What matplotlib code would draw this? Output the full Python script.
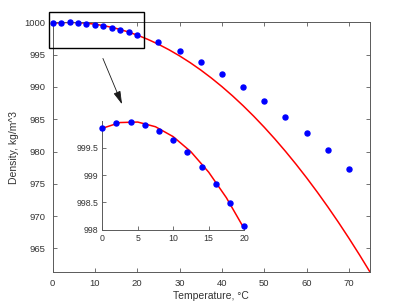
import numpy as np
import matplotlib.pyplot as plt
from matplotlib.patches import Rectangle

plt.rcParams["font.family"] = ["Liberation Sans", "DejaVu Sans"]

# measured densities of water
temp_low = [0, 2, 4, 6, 8, 10, 12, 14, 16, 18, 20]
dens_low = [999.87, 999.96, 999.97, 999.92, 999.81, 999.65, 999.43, 999.15, 998.84, 998.49, 998.07]
temp_high = [25, 30, 35, 40, 45, 50, 55, 60, 65, 70]
dens_high = [997.0, 995.6, 993.9, 992.0, 990.0, 987.8, 985.4, 982.9, 980.2, 977.3]

# fitted curve
fit_temp = [0, 2.5, 5, 7.5, 10, 12.5, 15, 17.5, 20, 22.5, 25, 27.5, 30, 32.5, 35, 37.5,
            40, 42.5, 45, 47.5, 50, 52.5, 55, 57.5, 60, 62.5, 65, 67.5, 70, 72.5, 75]
fit_dens = [999.857, 999.963, 999.972, 999.886, 999.704, 999.426, 999.052, 998.582, 998.016,
            997.355, 996.598, 995.744, 994.795, 993.750, 992.609, 991.372, 990.040, 988.611,
            987.087, 985.467, 983.750, 981.938, 980.030, 978.027, 975.927, 973.731, 971.440,
            969.053, 966.569, 963.990, 961.316]

x_ticks = [0, 10, 20, 30, 40, 50, 60, 70]
y_ticks = [965, 970, 975, 980, 985, 990, 995, 1000]
inset_x_ticks = [0, 5, 10, 15, 20]
inset_y_ticks = [998, 998.5, 999, 999.5]

axcol = "0.35"
fig = plt.figure(figsize=(4.09, 3.07), dpi=100)
ax = fig.add_axes([0.1286, 0.113, 0.7765, 0.8144])
ax.plot(fit_temp, fit_dens, color="red", lw=1.1)
ax.plot(temp_low + temp_high, dens_low + dens_high, "o", color="blue", ms=3.6, clip_on=False, zorder=3)
ax.set_xlim(0, 75)
ax.set_ylim(min(fit_dens), 1000)
ax.set_xticks(x_ticks)
ax.set_yticks(y_ticks)
ax.tick_params(direction="in", length=3, width=0.6, top=True, right=True, labelsize=6.8,
               colors=axcol, labelcolor="0.2", pad=5)
for s in ax.spines.values():
    s.set_color(axcol)
    s.set_linewidth(0.7)
ax.set_xlabel("Temperature, °C", fontsize=7.5, color="0.2", labelpad=2)
ax.set_ylabel("Density, kg/m^3", fontsize=7.5, color="0.2", labelpad=4)

# zoom box
ax.add_patch(Rectangle((-0.8, 996.0), 22.4, 5.65, fill=False, ec="black", lw=1.0, clip_on=False, zorder=4))

# inset
ins = fig.add_axes([0.250, 0.2524, 0.347, 0.355])
ins.plot(fit_temp[:9], fit_dens[:9], color="red", lw=1.1)
ins.plot(temp_low, dens_low, "o", color="blue", ms=3.6, clip_on=False, zorder=3)
ins.set_xlim(0, 20)
ins.set_ylim(998, 1000)
ins.set_xticks(inset_x_ticks)
ins.set_yticks(inset_y_ticks)
ins.set_yticklabels(["998", "998.5", "999", "999.5"])
ins.tick_params(direction="in", length=3, width=0.6, labelsize=6.3, colors=axcol, labelcolor="0.2", pad=3)
ins.spines["top"].set_visible(False)
ins.spines["right"].set_visible(False)
for s in ["left", "bottom"]:
    ins.spines[s].set_color(axcol)
    ins.spines[s].set_linewidth(0.7)
ins.patch.set_alpha(0)

ax.annotate("", xy=(0.301, 0.652), xytext=(0.249, 0.818), xycoords="figure fraction",
            textcoords="figure fraction",
            arrowprops=dict(arrowstyle="-|>,head_length=0.8,head_width=0.22", color="0.1", lw=0.6))

fig.savefig("out.png", dpi=100)
